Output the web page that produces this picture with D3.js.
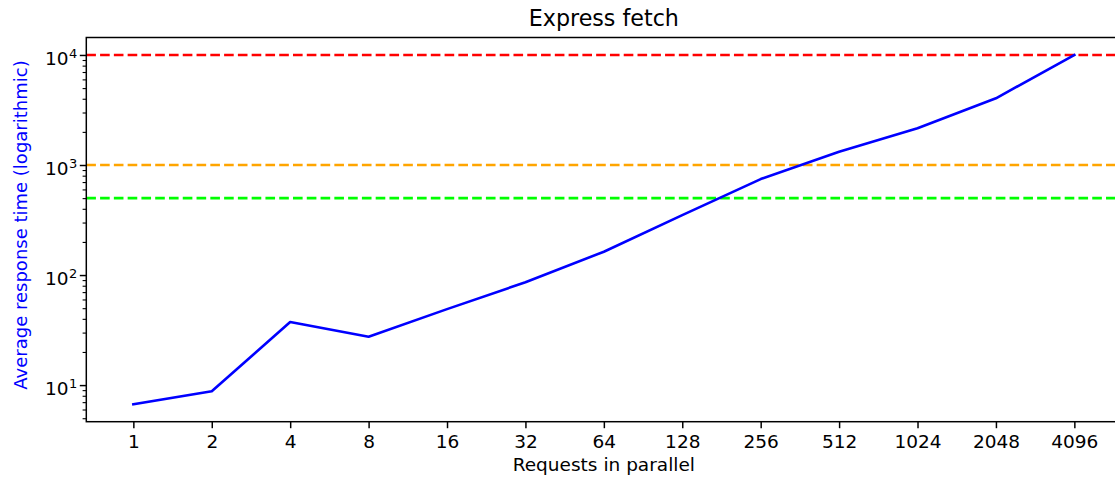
<!DOCTYPE html>
<html>
<head>
<meta charset="utf-8">
<script src="https://cdn.jsdelivr.net/npm/d3@7"></script>
<style>
  html, body { margin: 0; padding: 0; background: #fff; }
  svg { display: block; font-family: "DejaVu Sans", sans-serif; }
</style>
</head>
<body>
<svg id="chart" width="1115" height="479"></svg>
<script>
// Requests in parallel (categorical x positions)
const categories = ["1", "2", "4", "8", "16", "32", "64", "128", "256", "512", "1024", "2048", "4096"];
// Average response time in ms
const responseTimes = [6.7, 8.8, 37.4, 27.5, 49, 86, 163, 350, 745, 1320, 2160, 4040, 10000];
// Threshold reference lines
const thresholds = [
  { value: 10000, color: "#ff0000" },
  { value: 1000, color: "#ffa500" },
  { value: 500, color: "#00ff00" }
];
const majorTicks = [10, 100, 1000, 10000];

const svg = d3.select("#chart");
const plotLeft = 86.3, plotRight = 1121.4, plotTop = 37.5, plotBottom = 421.7;
const FS = 18.5;          // tick / axis-label font size
const LW = 2.6;           // data line width

const n = categories.length;
const x = d3.scaleLinear().domain([-0.6, n - 1 + 0.6]).range([plotLeft, plotRight]);

// log-space limits with 5% margins, like matplotlib's autoscale
const allVals = responseTimes.concat(thresholds.map(t => t.value));
const lmin = Math.log10(d3.min(allVals)), lmax = Math.log10(d3.max(allVals));
const pad = (lmax - lmin) * 0.05;
const y = d3.scaleLog().domain([Math.pow(10, lmin - pad), Math.pow(10, lmax + pad)]).range([plotBottom, plotTop]);

const g = svg.append("g");

// threshold lines
g.selectAll("line.thr").data(thresholds).join("line")
  .attr("class", "thr")
  .attr("x1", plotLeft).attr("x2", plotRight)
  .attr("y1", d => y(d.value)).attr("y2", d => y(d.value))
  .attr("stroke", d => d.color)
  .attr("stroke-width", LW)
  .attr("stroke-dasharray", `${3.7 * LW},${1.6 * LW}`);

// response time curve
const line = d3.line().x((d, i) => x(i)).y(d => y(d));
g.append("path")
  .datum(responseTimes)
  .attr("d", line)
  .attr("fill", "none")
  .attr("stroke", "#0000ff")
  .attr("stroke-width", LW)
  .attr("stroke-linejoin", "round")
  .attr("stroke-linecap", "square");

// spines
g.append("rect")
  .attr("x", plotLeft).attr("y", plotTop)
  .attr("width", plotRight - plotLeft).attr("height", plotBottom - plotTop)
  .attr("fill", "none").attr("stroke", "#000").attr("stroke-width", 1.48);

// x axis
const xAxis = d3.axisBottom(x)
  .tickValues(d3.range(n))
  .tickFormat(i => categories[i])
  .tickSize(6.5).tickPadding(6.5);
const xg = g.append("g").attr("transform", `translate(0,${plotBottom})`).call(xAxis);
xg.select(".domain").remove();
xg.selectAll(".tick line").attr("stroke-width", 1.48);
xg.selectAll(".tick text").attr("font-size", FS).attr("fill", "#000").attr("font-family", "DejaVu Sans");

// y axis: minor ticks
const [d0, d1] = y.domain();
const minor = [];
for (let e = Math.floor(Math.log10(d0)); e <= Math.ceil(Math.log10(d1)); e++) {
  for (let m = 2; m <= 9; m++) {
    const v = m * Math.pow(10, e);
    if (v >= d0 && v <= d1) minor.push(v);
  }
}
const yMinor = d3.axisLeft(y).tickValues(minor).tickFormat("").tickSize(3.7);
const ymg = g.append("g").attr("transform", `translate(${plotLeft},0)`).call(yMinor);
ymg.select(".domain").remove();
ymg.selectAll(".tick line").attr("stroke-width", 1.1);

// y axis: major ticks with superscript labels
const yMajor = d3.axisLeft(y).tickValues(majorTicks).tickFormat("").tickSize(6.5);
const yg = g.append("g").attr("transform", `translate(${plotLeft},0)`).call(yMajor);
yg.select(".domain").remove();
yg.selectAll(".tick line").attr("stroke-width", 1.48);
yg.selectAll(".tick").each(function(d) {
  const t = d3.select(this).append("text")
    .attr("x", -9).attr("y", 9.3)
    .attr("text-anchor", "end")
    .attr("font-size", FS).attr("fill", "#000")
    .attr("font-family", "DejaVu Sans");
  t.append("tspan").text("10");
  t.append("tspan").attr("font-size", 13).attr("dx", 0.5).attr("dy", -6.5).text(Math.round(Math.log10(d)));
});

// labels
svg.append("text")
  .attr("x", (plotLeft + plotRight) / 2).attr("y", 26.4)
  .attr("text-anchor", "middle")
  .attr("font-size", 22.2).attr("fill", "#000")
  .text("Express fetch");

svg.append("text")
  .attr("x", (plotLeft + plotRight) / 2).attr("y", 471)
  .attr("text-anchor", "middle")
  .attr("font-size", FS).attr("fill", "#000")
  .text("Requests in parallel");

svg.append("text")
  .attr("transform", `translate(26.5,225) rotate(-90)`)
  .attr("text-anchor", "middle")
  .attr("font-size", 18).attr("fill", "#0000ff")
  .text("Average response time (logarithmic)");
</script>
</body>
</html>
